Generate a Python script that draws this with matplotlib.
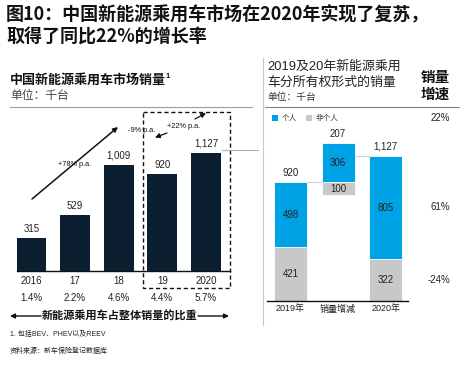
import matplotlib
matplotlib.use("Agg")
import matplotlib.pyplot as plt
from matplotlib import transforms
from matplotlib.patches import Rectangle, FancyArrowPatch

plt.rcParams['font.family'] = ['Liberation Sans', 'Noto Sans CJK SC', 'DejaVu Sans']

# ---------------- data ----------------
years = ['2016', '17', '18', '19', '2020']
sales = [315, 529, 1009, 920, 1127]
sales_labels = ['315', '529', '1,009', '920', '1,127']
share = ['1.4%', '2.2%', '4.6%', '4.4%', '5.7%']

own_cats = ['2019年', '销量增减', '2020年']
personal = [498, 306, 805]
nonpersonal = [421, 100, 322]
top_labels = ['920', '207', '1,127']
growth = ['22%', '61%', '-24%']

NAVY = '#0c1f30'
BLUE = '#00a2e6'
GRAY = '#c8c8c8'
LINE = '#a0a0a0'

W, H = 473, 367
fig = plt.figure(figsize=(W / 100, H / 100), dpi=100)

# overlay axes in pixel coordinates
ov = fig.add_axes([0, 0, 1, 1], zorder=5)
ov.set_xlim(0, W)
ov.set_ylim(H, 0)
ov.axis('off')
ov.patch.set_alpha(0)

def fa(x0, x1, y0, y1):
    return [x0 / W, (H - y1) / H, (x1 - x0) / W, (y1 - y0) / H]

# ---------------- titles ----------------
cjk = ['Noto Sans CJK SC']
ov.text(6, 15, '图10：中国新能源乘用车市场在2020年实现了复苏，', fontsize=13, fontweight='bold',
        family=cjk, va='center', ha='left', color='#111111')
ov.text(6, 36, '取得了同比22%的增长率', fontsize=13, fontweight='bold',
        family=cjk, va='center', ha='left', color='#111111')

# ---------------- left panel ----------------
ov.text(10, 80, '中国新能源乘用车市场销量', fontsize=9.4, fontweight='bold', family=cjk,
        va='center', ha='left', color='#111111')
ov.text(166, 76, '1', fontsize=5.5, fontweight='bold', va='center', ha='left', color='#111111')
ov.text(10, 96, '单位：千台', fontsize=8.5, family=cjk, va='center', ha='left', color='#444444')
ov.plot([10, 252], [106.5, 106.5], color=LINE, lw=0.8)

axL = fig.add_axes(fa(17, 230, 110, 271))
xs = list(range(len(years)))
axL.bar(xs, sales, width=0.69, color=NAVY)
axL.set_xlim(-0.33, 4.55)
axL.set_ylim(0, 161 / 0.105)
for s in ['top', 'right', 'left']:
    axL.spines[s].set_visible(False)
axL.spines['bottom'].set_color('#111111')
axL.spines['bottom'].set_linewidth(1.0)
axL.set_yticks([])
axL.set_xticks([])
axL.patch.set_alpha(0)
for x, v, lab in zip(xs, sales, sales_labels):
    axL.annotate(lab, (x, v), xytext=(0, 3), textcoords='offset points',
                 ha='center', va='bottom', fontsize=7, color='#222222')

bL = transforms.blended_transform_factory(axL.transData, ov.transData)
for x, y, s in zip(xs, years, share):
    ov.text(x, 281, y, transform=bL, ha='center', va='center', fontsize=7, color='#222222')
    ov.text(x, 298, s, transform=bL, ha='center', va='center', fontsize=7, color='#222222')

# dashed box
ov.add_patch(Rectangle((143, 112), 86.5, 176, fill=False, ls=(0, (3, 2)), lw=1.0,
                       edgecolor='#111111'))
# connector from 2020 bar to right panel
ov.plot([222, 258], [150, 150], color='#b0b0b0', lw=0.8)

# growth arrows
def arrow(p0, p1, lw=1.1):
    ov.add_patch(FancyArrowPatch(p0, p1, arrowstyle='-|>', mutation_scale=7,
                                 lw=lw, color='#111111', shrinkA=0, shrinkB=0))

arrow((32, 199), (118, 127))
ov.text(75, 164, '+78% p.a.', fontsize=5.3, ha='center', va='center', color='#111111')
arrow((167, 133), (155, 137.5), lw=0.9)
ov.text(142, 131, '-9% p.a.', fontsize=5.3, ha='center', va='center', color='#111111')
arrow((195, 119), (206, 113), lw=0.9)
ov.text(184, 126, '+22% p.a.', fontsize=5.3, ha='center', va='center', color='#111111')

# bottom arrow row
ov.text(119.5, 316, '新能源乘用车占整体销量的比重', fontsize=8, fontweight='bold', family=cjk,
        ha='center', va='center', color='#111111')
ov.add_patch(FancyArrowPatch((41, 316), (10, 316), arrowstyle='-|>', mutation_scale=7,
                             lw=1.0, color='#111111', shrinkA=0, shrinkB=0))
ov.add_patch(FancyArrowPatch((198, 316), (229, 316), arrowstyle='-|>', mutation_scale=7,
                             lw=1.0, color='#111111', shrinkA=0, shrinkB=0))

ov.text(10, 334, '1. 包括BEV、PHEV以及REEV', fontsize=5, ha='left', va='center', color='#222222')
ov.text(10, 351, '资料来源：新车保险登记数据库', fontsize=5, ha='left', va='center', color='#222222')

# ---------------- separator ----------------
ov.plot([263, 263], [58, 325], color='#c8c8c8', lw=0.8)

# ---------------- right panel ----------------
ov.text(267, 67, '2019及20年新能源乘用', fontsize=9.3, ha='left', va='center', color='#222222')
ov.text(267, 83, '车分所有权形式的销量', fontsize=9.3, ha='left', va='center', color='#222222')
ov.text(267, 97, '单位：千台', fontsize=7, ha='left', va='center', color='#333333')
ov.text(435, 77, '销量', fontsize=10.5, fontweight='bold', family=cjk, ha='center', va='center',
        color='#111111')
ov.text(435, 94, '增速', fontsize=10.5, fontweight='bold', family=cjk, ha='center', va='center',
        color='#111111')
ov.plot([265, 459], [107, 107], color='#808080', lw=0.8)

# legend
ov.add_patch(Rectangle((272, 115), 6, 6, color=BLUE, lw=0))
ov.text(282, 118, '个人', fontsize=5.5, ha='left', va='center', color='#333333')
ov.add_patch(Rectangle((305.5, 115), 6, 6, color=GRAY, lw=0))
ov.text(316, 118, '非个人', fontsize=5.5, ha='left', va='center', color='#333333')

axR = fig.add_axes(fa(267, 408, 130, 301))
rx = list(range(len(own_cats)))
start_total = nonpersonal[0] + personal[0]
gray_bottom = [0, start_total - nonpersonal[1], 0]
blue_bottom = [nonpersonal[0], start_total, nonpersonal[2]]
axR.bar(rx, nonpersonal, bottom=gray_bottom, width=0.69, color=GRAY, edgecolor='white', lw=0.6)
axR.bar(rx, personal, bottom=blue_bottom, width=0.69, color=BLUE, edgecolor='white', lw=0.6)
axR.set_xlim(-0.495, 2.47)
axR.set_ylim(0, 171 / 0.129)
for s in ['top', 'right', 'left']:
    axR.spines[s].set_visible(False)
axR.spines['bottom'].set_color('#111111')
axR.spines['bottom'].set_linewidth(1.0)
axR.set_xticks([])
axR.set_yticks([])
axR.patch.set_alpha(0)

# connectors
end_total = nonpersonal[2] + personal[2]
axR.plot([0 + 0.345, 1 - 0.345], [start_total, start_total], color='#d0d0d0', lw=0.8)
axR.plot([1 + 0.345, 2 - 0.345], [end_total, end_total], color='#d0d0d0', lw=0.8)

tops = [start_total, start_total + personal[1], end_total]
for x, t, lab in zip(rx, tops, top_labels):
    axR.annotate(lab, (x, t), xytext=(0, 3), textcoords='offset points',
                 ha='center', va='bottom', fontsize=7, color='#222222')
for x in rx:
    axR.text(x, gray_bottom[x] + nonpersonal[x] / 2, str(nonpersonal[x]), ha='center',
             va='center', fontsize=7, color='#222222')
    axR.text(x, blue_bottom[x] + personal[x] / 2, str(personal[x]), ha='center',
             va='center', fontsize=7, color='#222222')

bR = transforms.blended_transform_factory(axR.transData, ov.transData)
for x, c in zip(rx, own_cats):
    ov.text(x, 309, c, transform=bR, ha='center', va='center', fontsize=6.5, color='#222222')

for y, g in zip([118, 207, 280], growth):
    ov.text(450, y, g, ha='right', va='center', fontsize=7, color='#222222')

fig.savefig('out.png', dpi=100)
